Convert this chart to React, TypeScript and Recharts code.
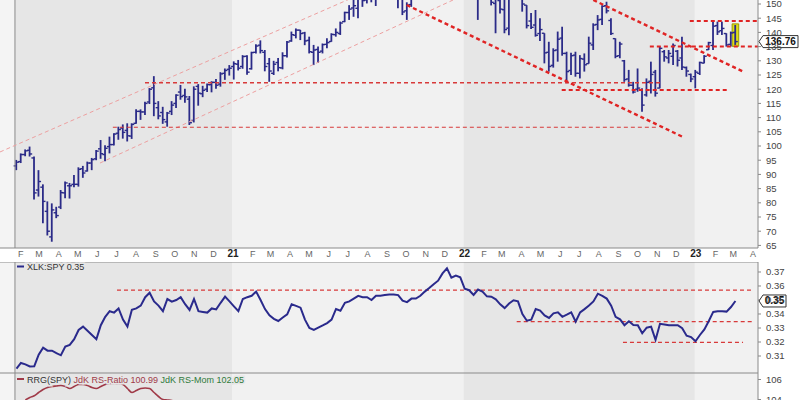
import React from 'react';
import {
  ComposedChart,
  Bar,
  Line,
  XAxis,
  YAxis,
  CartesianGrid,
  ReferenceLine,
  ReferenceArea,
  ReferenceDot,
} from 'recharts';

// weekly XLK bars, first week starts Mon 27 Jan 2020
const opens = [
  93.0, 94.5, 97.0, 98.5, 95.8, 84.5, 85.5, 77.0, 68.0, 76.5,
  78.5, 83.5, 86.0, 86.5, 86.5, 92.0, 91.2, 94.0, 95.5, 99.0,
  97.0, 99.8, 100.5, 104.5, 106.3, 105.5, 103.5, 108.0, 112.2, 112.0,
  115.5, 120.5, 113.5, 111.8, 108.5, 112.2, 115.0, 119.0, 117.8, 116.5,
  109.0, 121.0, 118.4, 120.0, 121.6, 122.4, 121.8, 125.6, 127.0, 128.0,
  128.8, 128.0, 131.6, 127.2, 133.0, 135.5, 133.0, 129.0, 125.6, 129.4,
  127.5, 131.8, 137.0, 139.0, 140.8, 139.8, 137.2, 133.0, 134.0, 133.4,
  135.8, 136.8, 139.2, 139.6, 143.8, 147.0, 148.6, 148.5, 152.2, 151.4,
  153.8, 154.0, 155.2, 157.5, 158.0, 155.0, 153.0, 154.6, 147.6, 149.8,
  155.2, 158.4, 161.8, 165.6, 166.0, 169.2, 165.0, 167.0, 171.2, 165.0,
  170.4, 173.2, 164.8, 161.4, 152.8, 154.6, 157.6, 154.0, 150.2, 151.2,
  148.0, 141.5, 156.0, 160.4, 158.6, 149.6, 144.0, 142.6, 139.6, 139.7,
  133.0, 128.4, 133.8, 138.0, 132.6, 126.6, 132.0, 125.6, 130.6, 129.0,
  135.6, 142.8, 144.6, 149.4, 144.2, 137.8, 131.8, 130.0, 123.6, 121.4,
  120.0, 119.6, 118.0, 122.8, 126.0, 120.4, 133.2, 131.0, 131.6, 133.4,
  131.0, 127.6, 125.2, 124.4, 125.6, 129.2, 133.9, 135.4, 142.4, 140.6,
  139.6, 135.8, 140.0,
];
const highs = [
  95.1, 97.4, 98.8, 99.8, 96.3, 91.5, 86.5, 80.5, 79.8, 78.6,
  84.5, 87.5, 87.0, 89.8, 92.5, 93.0, 94.5, 95.8, 98.6, 102.1,
  100.3, 103.3, 104.5, 106.8, 107.6, 108.0, 108.0, 112.9, 112.9, 115.6,
  120.4, 124.6, 115.8, 113.8, 112.0, 115.8, 118.2, 121.5, 120.2, 117.6,
  121.0, 121.8, 121.2, 122.0, 122.8, 123.6, 126.0, 127.3, 128.5, 129.8,
  130.3, 132.0, 132.0, 133.2, 135.8, 137.2, 133.8, 131.0, 130.0, 131.0,
  133.0, 137.0, 140.3, 141.4, 140.9, 140.2, 138.5, 135.6, 135.0, 136.1,
  137.9, 139.7, 141.4, 143.8, 147.3, 149.6, 151.8, 152.6, 153.6, 154.2,
  155.0, 155.5, 157.6, 159.0, 159.6, 156.6, 155.5, 155.0, 150.6, 155.2,
  158.6, 162.2, 166.2, 166.6, 169.4, 170.2, 170.0, 172.4, 173.2, 170.6,
  174.2, 174.4, 166.8, 164.2, 156.0, 160.4, 160.6, 157.2, 154.4, 156.2,
  152.0, 156.4, 161.0, 163.2, 160.2, 149.6, 146.8, 147.9, 145.0, 139.7,
  136.7, 134.4, 140.3, 142.0, 133.2, 132.8, 133.2, 132.0, 132.6, 138.5,
  143.2, 146.1, 149.6, 150.8, 145.0, 137.9, 136.7, 130.3, 126.8, 122.6,
  127.3, 120.3, 123.8, 129.7, 126.8, 135.0, 133.8, 133.8, 136.1, 133.8,
  138.5, 128.0, 125.5, 126.8, 129.7, 132.0, 136.7, 144.4, 143.8, 143.8,
  139.7, 140.3, 142.6,
];
const lows = [
  91.5, 94.0, 96.4, 96.3, 81.2, 82.2, 72.8, 68.5, 66.3, 74.6,
  77.8, 81.6, 81.5, 85.5, 85.7, 88.8, 91.0, 91.5, 95.0, 95.5,
  94.6, 97.4, 100.2, 102.2, 102.6, 101.6, 102.5, 107.8, 109.2, 110.9,
  114.8, 110.5, 109.4, 107.8, 106.8, 110.9, 113.4, 116.3, 115.2, 107.4,
  108.3, 114.2, 117.2, 119.0, 118.9, 120.2, 120.9, 123.3, 124.8, 123.4,
  126.6, 127.2, 125.1, 126.9, 132.6, 132.6, 126.3, 122.6, 125.0, 126.3,
  127.0, 131.2, 136.7, 137.9, 137.3, 135.5, 132.6, 128.5, 129.2, 132.6,
  134.4, 136.7, 138.5, 139.1, 143.6, 144.4, 145.5, 145.0, 149.0, 150.2,
  150.6, 149.3, 153.8, 155.8, 154.4, 152.4, 148.5, 146.1, 144.4, 149.0,
  154.6, 157.0, 161.0, 162.6, 164.2, 164.0, 160.2, 165.2, 163.4, 163.2,
  169.2, 163.4, 160.2, 153.2, 144.4, 152.2, 152.4, 149.5, 139.7, 146.7,
  139.7, 139.0, 154.2, 155.4, 147.3, 141.4, 141.2, 138.5, 137.0, 129.1,
  126.2, 127.6, 129.7, 131.8, 122.1, 125.0, 124.4, 123.8, 126.2, 129.0,
  133.8, 140.8, 142.6, 146.7, 139.1, 130.9, 130.9, 122.6, 120.9, 118.5,
  119.1, 112.1, 117.4, 118.5, 117.4, 120.3, 129.7, 129.1, 128.5, 128.0,
  126.8, 124.4, 122.5, 120.3, 125.0, 129.1, 133.8, 133.8, 139.1, 139.1,
  135.0, 135.0, 135.6,
];
const closes = [
  94.3, 97.0, 98.3, 97.2, 83.5, 87.5, 80.5, 70.0, 77.5, 75.5,
  83.6, 87.0, 86.0, 86.5, 91.8, 90.5, 94.0, 95.2, 98.2, 97.3,
  99.2, 100.5, 104.2, 105.8, 104.8, 103.6, 107.6, 112.2, 112.0, 115.0,
  120.0, 115.0, 110.6, 109.3, 111.6, 114.4, 117.9, 117.4, 117.3, 108.2,
  120.0, 118.6, 119.6, 121.6, 122.4, 121.4, 125.4, 126.6, 127.4, 129.0,
  127.4, 131.5, 126.0, 132.9, 135.2, 133.6, 128.0, 126.4, 128.8, 127.6,
  131.8, 136.6, 139.2, 140.8, 139.6, 137.0, 133.2, 133.8, 133.0, 135.7,
  136.4, 139.3, 140.0, 143.3, 147.0, 148.2, 149.4, 152.0, 151.2, 153.6,
  154.2, 155.0, 157.4, 158.0, 154.8, 154.6, 154.0, 147.2, 149.6, 155.0,
  158.2, 161.6, 165.4, 165.8, 169.0, 164.6, 166.4, 171.0, 166.2, 170.2,
  172.8, 165.0, 162.2, 153.8, 154.0, 157.8, 153.4, 150.6, 152.0, 148.2,
  141.0, 156.0, 160.0, 157.8, 150.0, 142.4, 141.8, 139.0, 141.0, 132.8,
  128.0, 133.6, 137.6, 132.6, 126.2, 131.8, 125.6, 130.8, 128.6, 136.2,
  142.6, 144.4, 149.2, 147.6, 139.6, 131.6, 135.9, 123.4, 121.4, 119.0,
  120.4, 114.4, 122.4, 125.2, 118.6, 134.4, 131.4, 132.6, 135.4, 130.2,
  127.8, 126.4, 123.6, 126.0, 129.4, 131.6, 136.4, 142.2, 140.2, 141.4,
  135.6, 139.8, 136.76,
];

// XLK:SPY ratio, same weeks
const rsValues = [
  0.301, 0.305, 0.304, 0.3025, 0.3026, 0.311, 0.316, 0.3138, 0.3138, 0.312,
  0.3105, 0.3167, 0.318, 0.322, 0.3286, 0.331, 0.328, 0.325, 0.322, 0.332,
  0.338, 0.342, 0.341, 0.344, 0.336, 0.331, 0.343, 0.344, 0.346, 0.352,
  0.3552, 0.349, 0.346, 0.342, 0.3507, 0.3488, 0.35, 0.352, 0.347, 0.3429,
  0.3507, 0.342, 0.3415, 0.341, 0.344, 0.3433, 0.348, 0.3524, 0.349, 0.3455,
  0.3421, 0.3507, 0.352, 0.353, 0.356, 0.35, 0.3435, 0.339, 0.3365, 0.335,
  0.3375, 0.3398, 0.347, 0.3458, 0.3445, 0.336, 0.33, 0.3286, 0.3302, 0.3318,
  0.3335, 0.336, 0.3436, 0.3424, 0.348, 0.349, 0.351, 0.353, 0.352, 0.352,
  0.35, 0.353, 0.353, 0.3535, 0.354, 0.354, 0.3535, 0.3495, 0.3485, 0.351,
  0.351, 0.353, 0.356, 0.3585, 0.3613, 0.3638, 0.369, 0.3726, 0.366, 0.3675,
  0.3662, 0.358, 0.357, 0.3536, 0.3575, 0.356, 0.3526, 0.3524, 0.3505, 0.3469,
  0.3442, 0.3475, 0.3498, 0.349, 0.34, 0.3352, 0.336, 0.3435, 0.3425, 0.339,
  0.3372, 0.3405, 0.3412, 0.338, 0.3395, 0.3412, 0.3345, 0.3412, 0.3435, 0.346,
  0.349, 0.3545, 0.353, 0.351, 0.346, 0.338, 0.3362, 0.332, 0.3348, 0.3322,
  0.332, 0.3262, 0.3302, 0.331, 0.3215, 0.333, 0.3325, 0.332, 0.332, 0.332,
  0.3298, 0.3245, 0.3235, 0.3205, 0.325, 0.329, 0.335, 0.3415, 0.342, 0.342,
  0.3417, 0.345, 0.3493,
];

// JdK RS-Ratio, only the part that shows above the crop
const rrgRatio = [
  null, null, 103.95, 104.2, 104.37, 104.7, 105.0, 105.2, 105.3, 105.35,
  105.4, 105.3, 105.1, 105.3, 105.5, 105.5, 105.4, 105.2, 105.1, 105.3,
  105.5, 105.6, 105.6, 105.6, 105.5, 105.1, 104.7, 104.9, 105.1, 105.15,
  105.1, 104.7, 104.3, 104.0, 103.95, 103.9, 103.7,
];

const priceTicks = [65, 70, 75, 80, 85, 90, 95, 100, 105, 110, 115, 120, 125, 130, 135, 140, 145, 150];
const rsTicks = [0.31, 0.32, 0.33, 0.34, 0.35, 0.36, 0.37];
const rrgTicks = [102, 104, 106];

// annotations: [dayFrom, valueFrom, dayTo, valueTo]
const risingChannel = [
  [0, 97.9, 600, 156.5],
  [157.7, 94.0, 714.5, 151.4],
];
const fallingChannel = [
  [641.5, 149.65, 1077.3, 103.17],
  [935.8, 151.41, 1172.4, 126.17],
];
const thinLevels = [
  [228.7, 122.3, 1041, 122.3],
  [178, 106.6, 1036, 106.6],
];
const thickLevels = [
  [886, 119.7, 1151, 119.7],
  [1025, 135.0, 1196, 135.0],
  [1088, 144.0, 1196, 144.0],
];
const rsLevels = [
  [184.5, 0.357, 1186, 0.357],
  [815, 0.3345, 1186, 0.3345],
  [982.6, 0.3198, 1172, 0.3198],
];

const X_DOMAIN: [number, number] = [0, 1195.6];
const PRICE_DOMAIN: [number, number] = [64.09, 151.41];
const RS_DOMAIN: [number, number] = [0.29786, 0.37714];
const RRG_DOMAIN: [number, number] = [100.65, 106.65];

const FIRST_DAY = 26; // days since 1 Jan 2020
const DAY_MS = 86400000;
const BORDER_DAY = 23.6;

const BAR_COLOR = '#2b2b88';
const DARK_BAND = '#e6e6e6';
const LIGHT_BAND = '#f1f1f1';
const FONT = '"Liberation Sans", Arial, sans-serif';

const weeks = opens.map((o, i) => ({
  day: FIRST_DAY + 7 * i,
  o,
  h: highs[i],
  l: lows[i],
  c: closes[i],
  range: [lows[i], highs[i]],
  rs: rsValues[i],
}));
const rrgRows = rrgRatio
  .map((v, i) => ({ day: FIRST_DAY + 7 * i, v }))
  .filter((r) => r.v != null);

const monthLetters = ['J', 'F', 'M', 'A', 'M', 'J', 'J', 'A', 'S', 'O', 'N', 'D'];
const monthTicks: { day: number; label: string; year: boolean }[] = [];
for (let y = 2020; y <= 2023; y++) {
  for (let m = 0; m < 12; m++) {
    const day = (Date.UTC(y, m, 1) - Date.UTC(2020, 0, 1)) / DAY_MS;
    if (day > BORDER_DAY && day < X_DOMAIN[1]) {
      monthTicks.push({ day, label: m === 0 ? String(y).slice(2) : monthLetters[m], year: m === 0 });
    }
  }
}
const tickDays = monthTicks.map((t) => t.day);
const yearStarts = [366, 731, 1096];
const bands = [
  [BORDER_DAY, yearStarts[0], DARK_BAND],
  [yearStarts[0], yearStarts[1], LIGHT_BAND],
  [yearStarts[1], yearStarts[2], DARK_BAND],
  [yearStarts[2], X_DOMAIN[1], LIGHT_BAND],
];

const OhlcBar = (props: any) => {
  const { x, y, width, height, payload } = props;
  if (x == null || y == null || !payload) return null;
  const top = Math.min(y, y + height);
  const span = Math.abs(height);
  const cx = x + width / 2;
  const r = payload.h - payload.l || 1;
  const yo = top + ((payload.h - payload.o) / r) * span;
  const yc = top + ((payload.h - payload.c) / r) * span;
  return (
    <g stroke={BAR_COLOR}>
      <line x1={cx} x2={cx} y1={top} y2={top + span} strokeWidth={1.8} />
      <line x1={cx - 2.6} x2={cx} y1={yo} y2={yo} strokeWidth={1.4} />
      <line x1={cx} x2={cx + 2.6} y1={yc} y2={yc} strokeWidth={1.4} />
    </g>
  );
};

const MonthTick = (props: any) => {
  const { x, y, payload } = props;
  const t = monthTicks.find((m) => Math.abs(m.day - payload.value) < 0.01);
  if (!t) return null;
  return (
    <text
      x={x + 1}
      y={y}
      dy={9}
      textAnchor="middle"
      fontFamily={FONT}
      fontSize={t.year ? 10 : 9}
      fontWeight={t.year ? 'bold' : 'normal'}
      fill={t.year ? '#222' : '#666'}
    >
      {t.label}
    </text>
  );
};

const ValueTag = ({ cx, cy, text, w }: any) => (
  <g>
    <path
      d={`M${cx + 1},${cy} L${cx + 5},${cy - 6} H${cx + 5 + w} V${cy + 6} H${cx + 5} Z`}
      fill="#fff"
      stroke="#333"
      strokeWidth={1}
    />
    <text x={cx + 5 + w / 2} y={cy + 3.5} textAnchor="middle" fontFamily={FONT} fontSize={10} fontWeight="bold" fill="#111">
      {text}
    </text>
  </g>
);

const axisTick = { fontSize: 9.5, fill: '#444', fontFamily: FONT };

// background layer: year bands + dotted grid (kept under the bars)
function Backdrop({ width, height, xHeight, yDomain, yTicks, extra }: any) {
  return (
    <ComposedChart width={width} height={height} data={weeks} margin={{ top: 0, right: 0, bottom: 0, left: 0 }}>
      <XAxis type="number" dataKey="day" domain={X_DOMAIN} allowDataOverflow height={xHeight} hide={!xHeight} tick={false} axisLine={false} tickLine={false} />
      <YAxis orientation="right" domain={yDomain} allowDataOverflow width={42} tick={false} axisLine={false} tickLine={false} />
      <ReferenceArea x1={X_DOMAIN[0]} x2={BORDER_DAY} fill="#f4f4f4" fillOpacity={1} strokeWidth={0} />
      {bands.map((b, i) => (
        <ReferenceArea key={i} x1={b[0] as number} x2={b[1] as number} fill={b[2] as string} fillOpacity={1} strokeWidth={0} />
      ))}
      {extra}
      <CartesianGrid
        stroke="#c8c8c8"
        strokeDasharray="1 2"
        verticalValues={tickDays}
        horizontalValues={yTicks}
      />
    </ComposedChart>
  );
}

const seg = (s: number[]) => [
  { x: s[0], y: s[1] },
  { x: s[2], y: s[3] },
];

export default function App() {
  const last = weeks[weeks.length - 1];
  return (
    <div style={{ position: 'absolute', left: 0, top: 0, width: 800, height: 400, overflow: 'hidden', background: '#fff' }}>
      {/* price panel */}
      <div style={{ position: 'absolute', left: 0, top: 0 }}>
        <Backdrop
          width={800}
          height={262}
          xHeight={14}
          yDomain={PRICE_DOMAIN}
          yTicks={priceTicks}
          extra={
            <ReferenceArea x1={last.day - 5.2} x2={last.day + 5.2} y1={135.1} y2={143.0} fill="#dcdc00" fillOpacity={0.9} stroke="#9a9a00" />
          }
        />
      </div>
      <div style={{ position: 'absolute', left: 0, top: 0 }}>
        <ComposedChart width={800} height={262} data={weeks} margin={{ top: 0, right: 0, bottom: 0, left: 0 }}>
          <XAxis
            type="number"
            dataKey="day"
            domain={X_DOMAIN}
            allowDataOverflow
            ticks={tickDays}
            interval={0}
            height={14}
            tick={<MonthTick />}
            tickSize={0}
            tickMargin={0}
            tickLine={false}
            axisLine={{ stroke: '#8a8a8a' }}
          />
          <YAxis
            orientation="right"
            domain={PRICE_DOMAIN}
            allowDataOverflow
            ticks={priceTicks}
            interval={0}
            width={42}
            tick={axisTick}
            tickSize={3}
            tickMargin={5}
            axisLine={{ stroke: '#8a8a8a' }}
            tickLine={{ stroke: '#8a8a8a' }}
          />
          <ReferenceLine x={BORDER_DAY} stroke="#8a8a8a" />
          {risingChannel.map((s, i) => (
            <ReferenceLine key={'r' + i} segment={seg(s)} stroke="#eda0a0" strokeDasharray="4 3" strokeWidth={1} ifOverflow="hidden" />
          ))}
          {thinLevels.map((s, i) => (
            <ReferenceLine key={'t' + i} segment={seg(s)} stroke="#d83a3a" strokeDasharray="4 3" strokeWidth={i === 0 ? 1.5 : 1.2} ifOverflow="hidden" />
          ))}
          <Bar dataKey="range" barSize={2} shape={<OhlcBar />} isAnimationActive={false} />
          {fallingChannel.map((s, i) => (
            <ReferenceLine key={'f' + i} segment={seg(s)} stroke="#e02424" strokeDasharray="4 3" strokeWidth={2.4} ifOverflow="hidden" />
          ))}
          {thickLevels.map((s, i) => (
            <ReferenceLine key={'k' + i} segment={seg(s)} stroke="#e02424" strokeDasharray="4 3" strokeWidth={2} ifOverflow="hidden" />
          ))}
          <ReferenceDot
            x={X_DOMAIN[1]}
            y={last.c}
            r={0}
            ifOverflow="visible"
            shape={(p: any) => <ValueTag cx={p.cx} cy={p.cy} text={last.c.toFixed(2)} w={35} />}
          />
        </ComposedChart>
      </div>

      {/* XLK:SPY panel */}
      <div style={{ position: 'absolute', left: 0, top: 262 }}>
        <Backdrop width={800} height={111} xHeight={0} yDomain={RS_DOMAIN} yTicks={rsTicks} />
      </div>
      <div style={{ position: 'absolute', left: 0, top: 262 }}>
        <ComposedChart width={800} height={111} data={weeks} margin={{ top: 0, right: 0, bottom: 0, left: 0 }}>
          <XAxis type="number" dataKey="day" domain={X_DOMAIN} allowDataOverflow hide />
          <YAxis
            orientation="right"
            domain={RS_DOMAIN}
            allowDataOverflow
            ticks={rsTicks}
            interval={0}
            width={42}
            tick={axisTick}
            tickFormatter={(v: number) => v.toFixed(2)}
            tickSize={3}
            tickMargin={5}
            axisLine={{ stroke: '#8a8a8a' }}
            tickLine={{ stroke: '#8a8a8a' }}
          />
          <ReferenceLine x={BORDER_DAY} stroke="#8a8a8a" />
          <ReferenceLine y={RS_DOMAIN[1]} stroke="#8a8a8a" />
          <ReferenceLine y={RS_DOMAIN[0]} stroke="#8a8a8a" />
          {rsLevels.map((s, i) => (
            <ReferenceLine key={i} segment={seg(s)} stroke="#d83a3a" strokeDasharray="4 3" strokeWidth={1.2} ifOverflow="hidden" />
          ))}
          <Line dataKey="rs" type="linear" stroke="#2a2a8c" strokeWidth={2} dot={false} isAnimationActive={false} />
          <ReferenceDot
            x={X_DOMAIN[1]}
            y={last.rs}
            r={0}
            ifOverflow="visible"
            shape={(p: any) => <ValueTag cx={p.cx} cy={p.cy} text={last.rs.toFixed(2)} w={23} />}
          />
        </ComposedChart>
      </div>

      {/* RRG panel, cropped at the bottom */}
      <div style={{ position: 'absolute', left: 0, top: 373 }}>
        <Backdrop width={800} height={60} xHeight={0} yDomain={RRG_DOMAIN} yTicks={rrgTicks} />
      </div>
      <div style={{ position: 'absolute', left: 0, top: 373 }}>
        <ComposedChart width={800} height={60} data={rrgRows} margin={{ top: 0, right: 0, bottom: 0, left: 0 }}>
          <XAxis type="number" dataKey="day" domain={X_DOMAIN} allowDataOverflow hide />
          <YAxis
            orientation="right"
            domain={RRG_DOMAIN}
            allowDataOverflow
            ticks={rrgTicks}
            interval={0}
            width={42}
            tick={axisTick}
            tickSize={3}
            tickMargin={5}
            axisLine={{ stroke: '#8a8a8a' }}
            tickLine={{ stroke: '#8a8a8a' }}
          />
          <ReferenceLine x={BORDER_DAY} stroke="#8a8a8a" />
          <ReferenceLine y={RRG_DOMAIN[1]} stroke="#8a8a8a" />
          <Line dataKey="v" type="monotone" stroke="#a03a48" strokeWidth={1.6} dot={false} isAnimationActive={false} />
        </ComposedChart>
      </div>

      {/* panel titles */}
      <svg width={800} height={400} style={{ position: 'absolute', left: 0, top: 0, pointerEvents: 'none' }}>
        <g fontFamily={FONT} fontSize={9} style={{ paintOrder: 'stroke' }} stroke="#e6e6e6" strokeWidth={3}>
          <line x1={17} x2={24} y1={266.5} y2={266.5} stroke="#2a2a8c" strokeWidth={2} />
          <text x={27} y={270} fill="#333">XLK:SPY 0.35</text>
          <line x1={17} x2={24} y1={379} y2={379} stroke="#a03a48" strokeWidth={2} />
          <text x={27} y={382.5}>
            <tspan fill="#333">RRG(SPY) </tspan>
            <tspan fill="#a03a48">JdK RS-Ratio 100.99 </tspan>
            <tspan fill="#2f7a3a">JdK RS-Mom 102.05</tspan>
          </text>
        </g>
      </svg>
    </div>
  );
}
